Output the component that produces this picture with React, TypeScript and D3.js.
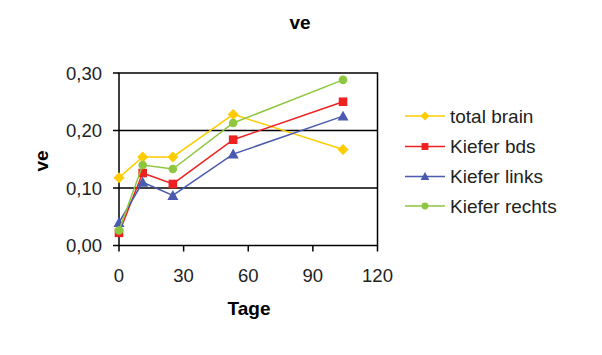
import React from "react";
import * as d3 from "d3";

const days = [0, 11, 25, 53, 104];
const totalBrain = [0.118, 0.154, 0.154, 0.228, 0.167];
const kieferBds = [0.022, 0.126, 0.107, 0.184, 0.25];
const kieferLinks = [0.04, 0.11, 0.087, 0.159, 0.225];
const kieferRechts = [0.026, 0.14, 0.133, 0.213, 0.288];
const seriesNames = ["total brain", "Kiefer bds", "Kiefer links", "Kiefer rechts"];
const xTicks = [0, 30, 60, 90, 120];
const yTicks = [0, 0.1, 0.2, 0.3];

const colors = ["#FFCC00", "#EE2020", "#4A5AAE", "#8DC63F"];
const shapes = ["diamond", "square", "triangle", "circle"];

function Marker({ shape, x, y, color, s }: any) {
  if (shape === "diamond") {
    const r = s * 0.55;
    return <path d={`M${x},${y - r}L${x + r},${y}L${x},${y + r}L${x - r},${y}Z`} fill={color} />;
  }
  if (shape === "square") {
    const r = s * 0.43;
    return <rect x={x - r} y={y - r} width={2 * r} height={2 * r} fill={color} />;
  }
  if (shape === "triangle") {
    const r = s * 0.55;
    return <path d={`M${x},${y - r}L${x + r},${y + r * 0.8}L${x - r},${y + r * 0.8}Z`} fill={color} />;
  }
  return <circle cx={x} cy={y} r={s * 0.43} fill={color} />;
}

export default function App() {
  const W = 602, H = 355;
  const x = d3.scaleLinear().domain([0, 120]).range([119, 377.5]);
  const y = d3.scaleLinear().domain([0, 0.3]).range([245.5, 73]);
  const data = [totalBrain, kieferBds, kieferLinks, kieferRechts];
  const line = d3.line<number>().x((_, i) => x(days[i])).y((d) => y(d));
  const fmt = (v: number) => v.toFixed(2).replace(".", ",");
  const font = "Liberation Sans, Arial, sans-serif";
  const legendY = [116, 146.5, 176.5, 206];

  return (
    <svg width={W} height={H} style={{ position: "absolute", left: 0, top: 0 }} fontFamily={font}>
      <rect width={W} height={H} fill="#fff" />
      <text x={300} y={29} textAnchor="middle" fontSize={19} fontWeight="bold">ve</text>
      <rect x={x(0)} y={y(0.3)} width={x(120) - x(0)} height={y(0) - y(0.3)} fill="none" stroke="#000" strokeWidth={1.5} />
      {yTicks.map((t) => (
        <g key={t}>
          {t > 0 && t < 0.3 && (
            <line x1={x(0)} x2={x(120)} y1={y(t)} y2={y(t)} stroke="#000" strokeWidth={1.5} />
          )}
          <line x1={x(0) - 6} x2={x(0)} y1={y(t)} y2={y(t)} stroke="#000" strokeWidth={1.5} />
          <text x={102} y={y(t)} dy="0.36em" textAnchor="end" fontSize={18.5} fill="#222">{fmt(t)}</text>
        </g>
      ))}
      {xTicks.map((t) => (
        <g key={t}>
          <line x1={x(t)} x2={x(t)} y1={y(0)} y2={y(0) + 6} stroke="#000" strokeWidth={1.5} />
          <text x={x(t)} y={282} textAnchor="middle" fontSize={18.5} fill="#222">{t}</text>
        </g>
      ))}
      <text x={249} y={315} textAnchor="middle" fontSize={19} fontWeight="bold">Tage</text>
      <text transform="translate(48,161) rotate(-90)" textAnchor="middle" fontSize={19} fontWeight="bold">ve</text>
      {data.map((ser, si) => (
        <g key={si}>
          <path d={line(ser) || ""} fill="none" stroke={colors[si]} strokeWidth={1.5} />
          {ser.map((v, i) => (
            <Marker key={i} shape={shapes[si]} x={x(days[i])} y={y(v)} color={colors[si]} s={10} />
          ))}
        </g>
      ))}
      {seriesNames.map((n, si) => (
        <g key={n}>
          <line x1={405} x2={445} y1={legendY[si]} y2={legendY[si]} stroke={colors[si]} strokeWidth={1.5} />
          <Marker shape={shapes[si]} x={425} y={legendY[si]} color={colors[si]} s={8} />
          <text x={450} y={legendY[si]} dy="0.36em" fontSize={19} fill="#222">{n}</text>
        </g>
      ))}
    </svg>
  );
}
